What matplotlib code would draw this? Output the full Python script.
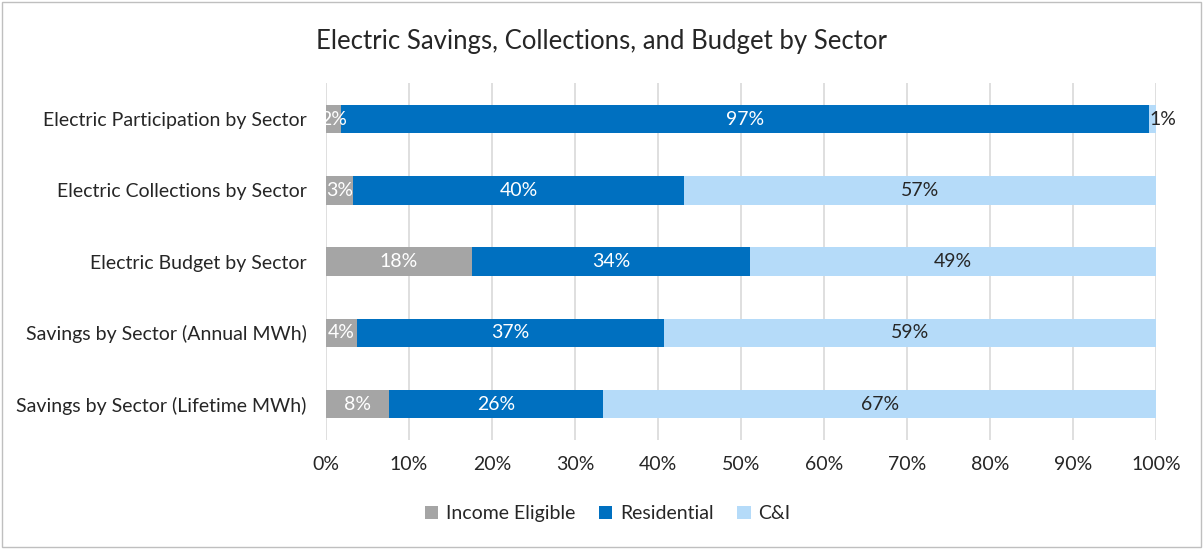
import numpy as np
import matplotlib.pyplot as plt
from matplotlib.patches import Rectangle

categories = ['Electric Participation by Sector', 'Electric Collections by Sector',
              'Electric Budget by Sector', 'Savings by Sector (Annual MWh)',
              'Savings by Sector (Lifetime MWh)']
income_eligible = [1.8, 3.3, 17.6, 3.7, 7.6]
residential = [97.4, 39.8, 33.5, 37.0, 25.8]
cni = [0.8, 56.9, 48.9, 59.3, 66.6]
series_names = ['Income Eligible', 'Residential', 'C&I']
colors = ['#A5A5A5', '#0070C0', '#B5DBF9']
text_colors = ['white', 'white', '#262626']

plt.rcParams['font.family'] = ['Lato', 'DejaVu Sans']
fs = 14

fig = plt.figure(figsize=(12.03, 5.49), dpi=100)
ax = fig.add_axes([0.271, 0.199, 0.690, 0.649])

y = np.arange(len(categories))
left = np.zeros(len(categories))
for vals, name, col, tcol in zip([income_eligible, residential, cni], series_names, colors, text_colors):
    vals = np.array(vals)
    ax.barh(y, vals, left=left, height=0.4, color=col, label=name, zorder=3)
    for yi, l, v in zip(y, left, vals):
        if v < 1.5:
            # tiny segment: label sits just past the bar end
            ax.text(l + v - 0.8, yi, f'{v:.0f}%', ha='left', va='center',
                    color='#262626', fontsize=fs, zorder=4)
        else:
            ax.text(l + v / 2, yi, f'{v:.0f}%', ha='center', va='center',
                    color=tcol, fontsize=fs, zorder=4)
    left = left + vals

ax.set_xlim(0, 100)
ax.set_ylim(len(categories) - 0.5, -0.5)
ax.set_yticks(y)
ax.set_yticklabels(categories, fontsize=fs, color='#262626')
ax.set_xticks(np.arange(0, 101, 10))
ax.set_xticklabels([f'{t}%' for t in range(0, 101, 10)], fontsize=fs, color='#262626')
ax.grid(axis='x', color='#D9D9D9', linewidth=1.2, zorder=0)
for s in ax.spines.values():
    s.set_visible(False)
ax.tick_params(axis='y', length=0, pad=14)
ax.tick_params(axis='x', length=0, pad=12)

fig.suptitle('Electric Savings, Collections, and Budget by Sector', fontsize=18.5,
             color='#262626', x=0.5, y=0.948)
fig.legend(loc='center', bbox_to_anchor=(0.505, 0.064), ncol=3, frameon=False,
           fontsize=fs, handlelength=0.7, handleheight=0.7, columnspacing=1.2,
           handletextpad=0.4, labelcolor='#262626')

fig.patches.append(Rectangle((0.002, 0.003), 0.996, 0.994, transform=fig.transFigure,
                             fill=False, edgecolor='#BFBFBF', linewidth=1))

fig.savefig('out.png', dpi=100)
